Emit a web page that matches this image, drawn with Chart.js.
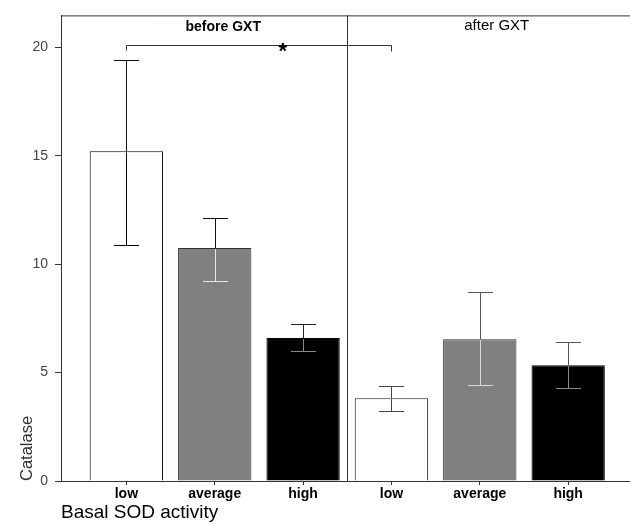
<!DOCTYPE html>
<html>
<head>
<meta charset="utf-8">
<script src="https://cdn.jsdelivr.net/npm/chart.js@4"></script>
<style>
  body { margin: 0; background: #fff; }
  #wrap { width: 630px; height: 525px; }
</style>
</head>
<body>
<div id="wrap"><canvas id="catalaseChart" width="630" height="525"></canvas></div>
<script>
// categories (before GXT: 1-3, after GXT: 4-6)
const categories = ['low', 'average', 'high', 'low', 'average', 'high'];
const xPos = [1, 2, 3, 4, 5, 6];
const means = [15.2, 10.74, 6.59, 3.82, 6.54, 5.34];
const errHigh = [19.4, 12.13, 7.26, 4.4, 8.72, 6.42];
const errLow = [10.87, 9.22, 5.99, 3.21, 4.43, 4.27];
const yTicks = [0, 5, 10, 15, 20];
const groups = ['before GXT', 'after GXT'];
const sigFrom = 1, sigTo = 4, sigLevel = 20.1;

const barFill = ['#ffffff', '#808080', '#000000', '#ffffff', '#808080', '#000000'];
const barEdge = ['#000000', '#333333', '#000000', '#222222', '#333333', '#000000'];
const errInner = ['#000000', '#e6e6e6', '#8a8a8a', '#444444', '#d8d8d8', '#8a8a8a'];
const errOuter = ['#111111', '#111111', '#222222', '#444444', '#555555', '#555555'];

const extras = {
  id: 'extras',
  afterDatasetsDraw(chart) {
    const { ctx, chartArea: a, scales: { x, y } } = chart;
    const meta = chart.getDatasetMeta(0);
    ctx.save();
    ctx.lineWidth = 1;

    // frame top + group divider
    ctx.strokeStyle = '#333';
    ctx.beginPath();
    ctx.moveTo(a.left, a.top + 0.5);
    ctx.lineTo(a.right, a.top + 0.5);
    const xd = Math.round(x.getPixelForValue(3.5)) + 0.5;
    ctx.moveTo(xd, a.top);
    ctx.lineTo(xd, a.bottom);
    ctx.stroke();

    // error bars
    meta.data.forEach((bar, i) => {
      const cx = Math.round(bar.x) + 0.5;
      const yb = bar.y;
      const yt = Math.round(y.getPixelForValue(errHigh[i])) + 0.5;
      const yl = Math.round(y.getPixelForValue(errLow[i])) + 0.5;
      ctx.strokeStyle = errOuter[i];
      ctx.beginPath();
      ctx.moveTo(cx, yt); ctx.lineTo(cx, yb);
      ctx.moveTo(cx - 12.5, yt); ctx.lineTo(cx + 12.5, yt);
      ctx.stroke();
      ctx.strokeStyle = errInner[i];
      ctx.beginPath();
      ctx.moveTo(cx, yb + 1); ctx.lineTo(cx, yl);
      ctx.moveTo(cx - 12.5, yl); ctx.lineTo(cx + 12.5, yl);
      ctx.stroke();
    });

    // significance bracket
    const x1 = Math.round(x.getPixelForValue(sigFrom)) + 0.5;
    const x2 = Math.round(x.getPixelForValue(sigTo)) + 0.5;
    const ys = Math.round(y.getPixelForValue(sigLevel)) + 0.5;
    ctx.strokeStyle = '#333';
    ctx.beginPath();
    ctx.moveTo(x1, ys + 5); ctx.lineTo(x1, ys);
    ctx.lineTo(x2, ys); ctx.lineTo(x2, ys + 6);
    ctx.stroke();
    ctx.fillStyle = '#000';
    ctx.textAlign = 'center';
    ctx.textBaseline = 'alphabetic';
    ctx.font = 'bold 22px "Liberation Sans", Arial, sans-serif';
    ctx.fillText('*', x.getPixelForValue(2.77), ys + 12);

    // group labels
    ctx.textBaseline = 'middle';
    ctx.font = 'bold 14px "Liberation Sans", Arial, sans-serif';
    ctx.fillText(groups[0], (a.left + xd) / 2 + 19, a.top + 12);
    ctx.font = '15px "Liberation Sans", Arial, sans-serif';
    ctx.fillText(groups[1], (xd + a.right) / 2 + 8, a.top + 10);
    ctx.restore();
  }
};

new Chart(document.getElementById('catalaseChart'), {
  type: 'bar',
  data: {
    datasets: [{
      data: xPos.map((v, i) => ({ x: v, y: means[i] })),
      backgroundColor: barFill,
      borderColor: barEdge,
      borderWidth: 1,
      borderSkipped: 'bottom',
      barPercentage: 0.83,
      categoryPercentage: 1
    }]
  },
  options: {
    responsive: false,
    animation: false,
    layout: { padding: { top: 11, right: 0, left: 0, bottom: 0 } },
    plugins: { legend: { display: false }, tooltip: { enabled: false } },
    scales: {
      x: {
        type: 'linear',
        offset: false,
        min: 0.26,
        max: 6.7,
        afterBuildTicks: (s) => { s.ticks = xPos.map(v => ({ value: v })); },
        afterFit: (s) => { s.height = 44; },
        ticks: {
          autoSkip: false,
          maxRotation: 0,
          padding: 1,
          color: '#000',
          font: { family: '"Liberation Sans", Arial, sans-serif', size: 14, weight: 'bold' },
          callback: (v, i) => categories[i]
        },
        grid: { offset: false, drawOnChartArea: false, tickLength: 4, color: '#333' },
        border: { color: '#333' },
        title: {
          display: true,
          text: 'Basal SOD activity',
          align: 'start',
          color: '#000',
          padding: { top: 0, bottom: 1 },
          font: { family: '"Liberation Sans", Arial, sans-serif', size: 19 }
        }
      },
      y: {
        min: 0,
        max: 21.47,
        afterBuildTicks: (s) => { s.ticks = yTicks.map(v => ({ value: v })); },
        afterFit: (s) => { s.width = 61; },
        ticks: {
          padding: 7,
          color: '#444',
          font: { family: '"Liberation Sans Narrow", "Arial Narrow", sans-serif', size: 14 }
        },
        grid: { drawOnChartArea: false, tickLength: 6, color: '#333' },
        border: { color: '#333' },
        title: {
          display: true,
          text: 'Catalase',
          align: 'start',
          color: '#333',
          padding: { top: 18, bottom: 0 },
          font: { family: '"Liberation Sans", Arial, sans-serif', size: 16.5 }
        }
      }
    }
  },
  plugins: [extras]
});
</script>
</body>
</html>
